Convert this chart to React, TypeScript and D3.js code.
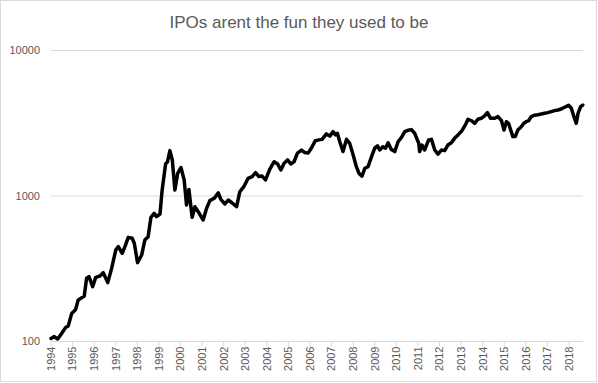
import React from "react";
import * as d3 from "d3";

const title = "IPOs arent the fun they used to be";

// decimal-year positions of the readings and their values
const dates = [
  1994.0, 1994.15, 1994.31, 1994.5, 1994.68, 1994.8, 1994.96, 1995.14, 1995.26, 1995.54,
  1995.65, 1995.76, 1995.93, 1996.07, 1996.27, 1996.42, 1996.63, 1996.81, 1997.0, 1997.12,
  1997.3, 1997.43, 1997.58, 1997.76, 1997.86, 1998.01, 1998.2, 1998.35, 1998.5, 1998.63,
  1998.78, 1998.89, 1999.05, 1999.15, 1999.31, 1999.4, 1999.51, 1999.62, 1999.74, 1999.87,
  2000.02, 2000.17, 2000.28, 2000.39, 2000.54, 2000.67, 2000.82, 2001.05, 2001.21, 2001.36,
  2001.56, 2001.75, 2001.87, 2002.06, 2002.21, 2002.38, 2002.6, 2002.75, 2002.95, 2003.13,
  2003.32, 2003.48, 2003.63, 2003.78, 2003.94, 2004.14, 2004.34, 2004.5, 2004.65, 2004.8,
  2004.96, 2005.11, 2005.26, 2005.42, 2005.61, 2005.76, 2005.91, 2006.06, 2006.25, 2006.41,
  2006.56, 2006.76, 2006.92, 2007.07, 2007.18, 2007.27, 2007.38, 2007.53, 2007.69, 2007.84,
  2008.0, 2008.15, 2008.27, 2008.41, 2008.54, 2008.69, 2008.85, 2009.0, 2009.13, 2009.23,
  2009.38, 2009.5, 2009.62, 2009.77, 2009.93, 2010.08, 2010.24, 2010.39, 2010.54, 2010.7,
  2010.85, 2011.04, 2011.08, 2011.19, 2011.31, 2011.5, 2011.63, 2011.78, 2011.93, 2012.09,
  2012.24, 2012.39, 2012.55, 2012.7, 2012.86, 2013.04, 2013.2, 2013.32, 2013.48, 2013.63,
  2013.78, 2013.94, 2014.09, 2014.22, 2014.37, 2014.56, 2014.71, 2014.87, 2014.99, 2015.1,
  2015.2, 2015.3, 2015.4, 2015.51, 2015.63, 2015.79, 2015.91, 2016.02, 2016.13, 2016.25,
  2016.41, 2016.56, 2016.72, 2016.87, 2017.02, 2017.18, 2017.33, 2017.49, 2017.64, 2017.8,
  2017.98, 2018.11, 2018.23, 2018.34, 2018.42, 2018.54, 2018.64,
];

const values = [
  105, 108, 104, 114, 125, 128, 156, 166, 193, 205,
  272, 279, 238, 276, 282, 297, 254, 318, 425, 449,
  404, 450, 520, 512, 473, 348, 393, 499, 525, 714,
  760, 721, 752, 1100, 1660, 1720, 2050, 1770, 1100, 1430,
  1570, 1290, 867, 1110, 714, 844, 780, 684, 823, 929,
  964, 1050, 949, 881, 939, 899, 844, 1070, 1170, 1320,
  1360, 1450, 1360, 1370, 1290, 1530, 1720, 1660, 1510, 1680,
  1770, 1660, 1720, 1970, 2070, 1990, 1970, 2130, 2400, 2430,
  2450, 2670, 2580, 2770, 2630, 2700, 2360, 2020, 2450, 2300,
  1910, 1590, 1430, 1370, 1550, 1590, 1860, 2130, 2210, 2070,
  2180, 2130, 2320, 2090, 2020, 2360, 2530, 2770, 2830, 2860,
  2700, 2300, 2020, 2240, 2070, 2430, 2450, 2070, 1940, 2070,
  2050, 2240, 2320, 2490, 2630, 2810, 3080, 3370, 3290, 3160,
  3370, 3420, 3550, 3740, 3420, 3420, 3510, 3300, 2840, 3240,
  3160, 2840, 2560, 2560, 2840, 2990, 3160, 3240, 3290, 3510,
  3590, 3620, 3660, 3700, 3740, 3800, 3860, 3900, 3960, 4070,
  4200, 4010, 3510, 3160, 3700, 4110, 4220,
];

const yearTicks = [
  1994, 1995, 1996, 1997, 1998, 1999, 2000, 2001, 2002, 2003, 2004, 2005,
  2006, 2007, 2008, 2009, 2010, 2011, 2012, 2013, 2014, 2015, 2016, 2017, 2018,
];
const yTicks = [100, 1000, 10000];

const W = 598;
const H = 383;
const left = 51;
const right = 583;
const top = 50.5;
const bottom = 341.5;
const grey = "#595959";
const gridColor = "#d9d9d9";
const font = "'Liberation Sans', Arial, sans-serif";

export default function App() {
  const x = d3.scaleLinear().domain([1994, 2018.65]).range([left, right]);
  const y = d3.scaleLog().domain([100, 10000]).range([bottom, top]);
  const points: [number, number][] = dates.map((d, i) => [d, values[i]]);
  const line = d3
    .line<[number, number]>()
    .x((d) => x(d[0]))
    .y((d) => y(d[1]))
    .curve(d3.curveLinear);

  return (
    <svg
      width={W}
      height={H}
      style={{ position: "absolute", left: 0, top: 0, background: "#fff" }}
    >
      <rect x={0.5} y={0.5} width={596} height={381} fill="#fff" stroke={gridColor} />
      <text
        x={299}
        y={28}
        textAnchor="middle"
        fontFamily={font}
        fontSize={17}
        fill={grey}
      >
        {title}
      </text>
      {yTicks.map((t) => (
        <g key={t}>
          <line x1={left} x2={right} y1={y(t)} y2={y(t)} stroke={gridColor} strokeWidth={1} />
          <text
            x={40}
            y={y(t)}
            dy="0.35em"
            textAnchor="end"
            fontFamily={font}
            fontSize={11}
            fill={grey}
          >
            {t}
          </text>
        </g>
      ))}
      {yearTicks.map((t) => (
        <g key={t}>
          <line x1={x(t)} x2={x(t)} y1={bottom} y2={bottom + 5} stroke={gridColor} />
          <text
            transform={`translate(${x(t)},${bottom + 5}) rotate(-90)`}
            dy="0.35em"
            textAnchor="end"
            fontFamily={font}
            fontSize={11}
            fill={grey}
          >
            {t}
          </text>
        </g>
      ))}
      <path
        d={line(points) || ""}
        fill="none"
        stroke="#000"
        strokeWidth={3.5}
        strokeLinejoin="round"
        strokeLinecap="round"
      />
    </svg>
  );
}
